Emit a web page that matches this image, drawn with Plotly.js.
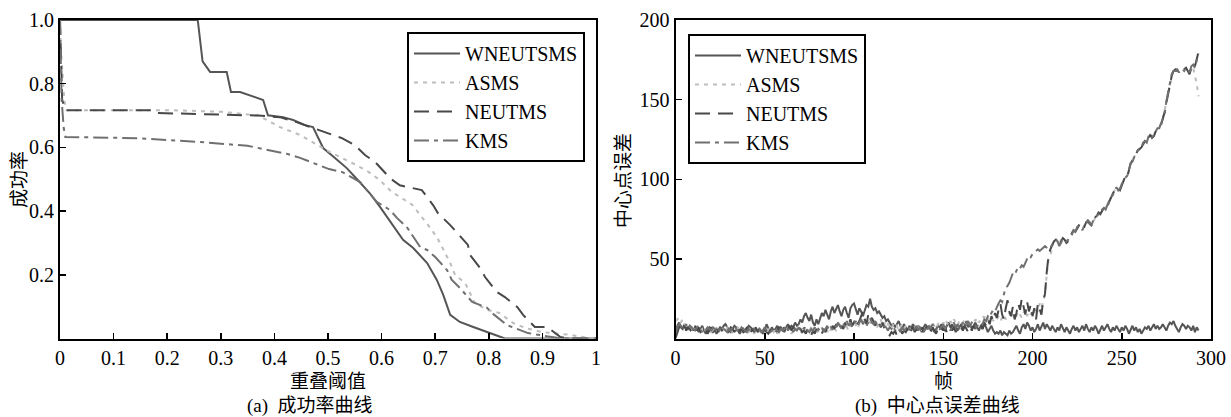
<!DOCTYPE html>
<html><head><meta charset="utf-8">
<script src="https://cdn.plot.ly/plotly-3.0.1.min.js"></script>
<style>html,body{margin:0;padding:0;background:#fff}#chart{width:1231px;height:417px}</style>
</head><body><div id="chart"></div>
<script>
const seriesNames = ['WNEUTSMS', 'ASMS', 'NEUTMS', 'KMS'];

// ---- (a) success-rate curves: overlap threshold vs success rate ----
const thrW = [0, 0.25, 0.257, 0.266, 0.28, 0.311, 0.319, 0.336, 0.367, 0.379, 0.388, 0.416, 0.435, 0.457, 0.472, 0.491, 0.513, 0.535, 0.556, 0.578, 0.597, 0.619, 0.64, 0.659, 0.685, 0.703, 0.715, 0.728, 0.746, 0.771, 0.797, 0.815, 0.83, 1];
const sucW = [1, 1, 1, 0.87, 0.837, 0.837, 0.774, 0.774, 0.755, 0.749, 0.701, 0.695, 0.686, 0.67, 0.664, 0.598, 0.567, 0.535, 0.497, 0.456, 0.413, 0.362, 0.31, 0.284, 0.237, 0.184, 0.137, 0.074, 0.052, 0.036, 0.02, 0.011, 0, 0];

const thrA = [0, 0.002, 0.008, 0.012, 0.2, 0.3, 0.37, 0.41, 0.448, 0.472, 0.504, 0.545, 0.573, 0.597, 0.619, 0.634, 0.657, 0.685, 0.703, 0.715, 0.728, 0.737, 0.756, 0.774, 0.797, 0.82, 0.845, 0.868, 0.9, 0.95, 0.99, 1];
const sucA = [1, 0.9, 0.75, 0.717, 0.717, 0.712, 0.70, 0.664, 0.639, 0.617, 0.585, 0.551, 0.526, 0.497, 0.46, 0.445, 0.42, 0.36, 0.319, 0.28, 0.237, 0.2, 0.174, 0.111, 0.09, 0.08, 0.049, 0.033, 0.02, 0.012, 0, 0];

const thrN = [0, 0.004, 0.01, 0.17, 0.18, 0.37, 0.41, 0.44, 0.494, 0.526, 0.55, 0.569, 0.588, 0.616, 0.634, 0.66, 0.675, 0.696, 0.705, 0.728, 0.74, 0.761, 0.765, 0.784, 0.793, 0.815, 0.83, 0.853, 0.864, 0.886, 0.909, 0.933, 0.95, 1];
const sucN = [1, 0.75, 0.717, 0.717, 0.708, 0.70, 0.695, 0.68, 0.648, 0.629, 0.607, 0.576, 0.554, 0.503, 0.481, 0.47, 0.466, 0.419, 0.394, 0.356, 0.334, 0.294, 0.262, 0.221, 0.193, 0.146, 0.13, 0.099, 0.074, 0.036, 0.036, 0.005, 0, 0];

const thrK = [0, 0.003, 0.007, 0.01, 0.143, 0.26, 0.35, 0.386, 0.423, 0.448, 0.481, 0.502, 0.526, 0.56, 0.591, 0.616, 0.629, 0.647, 0.672, 0.685, 0.7, 0.722, 0.731, 0.746, 0.769, 0.784, 0.797, 0.806, 0.834, 0.873, 0.927, 0.95, 1];
const sucK = [1, 0.75, 0.66, 0.633, 0.629, 0.617, 0.605, 0.592, 0.58, 0.567, 0.545, 0.532, 0.523, 0.491, 0.429, 0.403, 0.378, 0.35, 0.287, 0.278, 0.256, 0.215, 0.184, 0.159, 0.115, 0.105, 0.096, 0.08, 0.042, 0.017, 0.002, 0, 0];

// ---- (b) center-location error per frame ----
const errW = [
 2, 8, 10, 7, 6, 9, 7, 6, 8, 7,
 5, 7, 6, 4, 6, 8, 5, 3, 5, 7,
 6, 4, 5, 3, 5, 7, 6, 8, 9, 7,
 5, 4, 6, 8, 7, 5, 3, 5, 6, 4,
 6, 8, 7, 6, 5, 7, 4, 6, 5, 3,
 5, 9, 6, 4, 7, 5, 6, 8, 5, 7,
 6, 4, 7, 9, 6, 8, 7, 10, 8, 9,
 12, 10, 14, 16, 13, 11, 15, 10, 8, 12,
 9, 13, 16, 14, 18, 15, 12, 17, 20, 16,
 19, 21, 17, 14, 18, 20, 16, 13, 19, 21,
 22, 18, 15, 19, 17, 14, 18, 21, 20, 25,
 20, 18, 19, 16, 17, 15, 13, 14, 11, 12,
 10, 8, 9, 7, 9, 11, 8, 6, 9, 7,
 5, 8, 6, 9, 7, 5, 8, 6, 4, 7,
 9, 6, 8, 5, 7, 4, 6, 8, 7, 9,
 6, 5, 8, 10, 7, 9, 6, 8, 5, 7,
 9, 6, 8, 11, 7, 9, 6, 8, 10, 7,
 5, 8, 6, 9, 7, 4, 6, 8, 5, 3,
 4, 3, 5, 2, 4, 3, 2, 5, 3, 4,
 6, 8, 5, 3, 7, 9, 6, 10, 8, 5,
 7, 4, 6, 9, 5, 8, 10, 6, 9, 7,
 5, 8, 6, 4, 7, 5, 9, 6, 4, 7,
 5, 3, 6, 8, 5, 7, 4, 6, 8, 5,
 9, 6, 4, 7, 5, 8, 6, 3, 6, 8,
 5, 7, 9, 6, 4, 7, 5, 8, 6, 4,
 7, 5, 8, 6, 3, 6, 8, 5, 7, 4,
 6, 3, 5, 7, 6, 8, 5, 7, 9, 6,
 8, 6, 7, 9, 7, 5, 8, 10, 9, 11,
 8, 6, 4, 7, 9, 8, 6, 8, 7, 5,
 8, 4, 7, 5];

const errA = [
 11, 12, 13, 10, 12, 9, 7, 8, 6, 7,
 5, 6, 8, 7, 5, 6, 4, 6, 7, 5,
 4, 6, 5, 7, 4, 5, 6, 4, 5, 7,
 6, 5, 4, 6, 5, 7, 6, 4, 5, 6,
 5, 4, 6, 5, 3, 5, 6, 4, 7, 5,
 4, 6, 5, 7, 5, 4, 6, 3, 5, 4,
 6, 5, 4, 7, 5, 3, 5, 4, 6, 5,
 3, 5, 4, 6, 3, 5, 7, 4, 6, 3,
 5, 4, 7, 5, 6, 4, 7, 5, 8, 6,
 5, 7, 9, 6, 8, 10, 7, 5, 8, 9,
 11, 8, 6, 9, 12, 10, 13, 9, 11, 10,
 8, 11, 9, 7, 10, 12, 8, 10, 7, 9,
 8, 6, 9, 7, 8, 5, 7, 9, 6, 8,
 7, 5, 8, 6, 7, 9, 6, 8, 5, 7,
 8, 6, 9, 7, 10, 8, 6, 9, 10, 11,
 9, 12, 10, 8, 11, 9, 12, 10, 8, 11,
 9, 10, 12, 9, 11, 8, 10, 12, 11, 13,
 10, 12, 14, 13, 15, 12, 14, 13, 11, 13,
 12, 14, 11, 13, 15, 12, 14, 16, 13, 15,
 12, 14, 17, 15, 13, 16, 18, 14, 17, 15,
 18, 16, 20, 17, 22, 19, 24, 28, 40, 50,
 52, 58, 62, 63, 61, 59, 62, 63, 62, 61,
 62, 64, 66, 68, 68, 69, 71, 70, 69, 71,
 73, 74, 73, 72, 73, 76, 78, 79, 79, 80,
 82, 82, 84, 86, 89, 91, 93, 95, 94, 94,
 96, 99, 102, 102, 106, 110, 112, 114, 116, 118,
 119, 121, 122, 124, 124, 126, 128, 127, 128, 130,
 131, 133, 135, 138, 143, 148, 154, 160, 165, 169,
 170, 169, 168, 169, 168, 169, 170, 169, 167, 170,
 170, 165, 160, 152];

const errN = [
 0, 4, 7, 9, 6, 8, 5, 7, 6, 4,
 6, 8, 5, 7, 4, 5, 7, 6, 3, 5,
 7, 5, 3, 6, 4, 7, 5, 6, 4, 3,
 5, 7, 6, 4, 6, 8, 5, 6, 4, 5,
 7, 5, 3, 6, 4, 6, 5, 3, 2, 4,
 6, 4, 3, 5, 7, 6, 4, 5, 7, 6,
 5, 7, 4, 6, 8, 5, 7, 6, 4, 5,
 6, 4, 5, 3, 6, 4, 2, 5, 3, 6,
 4, 5, 3, 6, 4, 7, 5, 4, 8, 6,
 9, 7, 5, 8, 6, 10, 7, 9, 12, 8,
 10, 13, 9, 11, 14, 17, 12, 9, 15, 11,
 13, 10, 8, 12, 9, 7, 10, 6, 4, 3,
 2, 4, 3, 5, 2, 4, 6, 3, 5, 4,
 6, 3, 5, 7, 4, 6, 3, 5, 7, 4,
 6, 8, 5, 4, 7, 5, 3, 6, 4, 7,
 5, 7, 4, 6, 8, 5, 7, 4, 6, 5,
 7, 5, 8, 6, 4, 7, 5, 8, 6, 9,
 7, 9, 6, 10, 8, 12, 9, 14, 11, 16,
 13, 18, 22, 15, 12, 19, 24, 17, 14, 20,
 12, 16, 22, 18, 25, 20, 15, 23, 17, 21,
 14, 19, 12, 22, 18, 15, 24, 28, 42, 52,
 56, 59, 61, 62, 60, 58, 61, 63, 62, 60,
 61, 63, 66, 68, 67, 69, 71, 70, 68, 70,
 73, 74, 72, 71, 73, 76, 77, 79, 78, 80,
 82, 81, 83, 86, 89, 91, 93, 95, 94, 93,
 96, 99, 102, 101, 106, 110, 112, 114, 116, 118,
 119, 120, 122, 124, 123, 126, 128, 126, 127, 130,
 131, 132, 134, 138, 142, 148, 154, 160, 165, 168,
 169, 168, 168, 169, 168, 169, 170, 168, 166, 170,
 173, 171, 176, 180];

const errK = [
 3, 7, 9, 8, 6, 7, 9, 6, 8, 7,
 6, 5, 7, 8, 6, 4, 6, 5, 7, 6,
 5, 7, 6, 4, 5, 6, 8, 6, 5, 4,
 6, 5, 7, 8, 6, 4, 5, 7, 6, 5,
 4, 6, 5, 7, 6, 4, 5, 6, 4, 5,
 7, 5, 6, 4, 5, 7, 6, 5, 4, 6,
 5, 6, 8, 5, 7, 6, 4, 6, 5, 7,
 5, 7, 6, 8, 5, 4, 6, 5, 7, 4,
 6, 5, 7, 4, 6, 8, 5, 7, 6, 9,
 7, 10, 8, 6, 9, 7, 11, 8, 10, 7,
 9, 11, 8, 10, 12, 9, 11, 8, 10, 13,
 10, 9, 11, 8, 7, 9, 6, 8, 7, 5,
 7, 6, 8, 5, 7, 6, 4, 7, 5, 6,
 8, 6, 5, 7, 6, 8, 5, 7, 6, 4,
 7, 5, 8, 6, 9, 7, 5, 8, 6, 7,
 9, 6, 8, 7, 5, 8, 10, 7, 9, 6,
 8, 10, 7, 9, 11, 8, 10, 9, 7, 8,
 8, 10, 9, 12, 11, 14, 13, 16, 18, 17,
 20, 22, 24, 23, 28, 32, 33, 35, 38, 41,
 40, 43, 45, 44, 46, 45, 48, 50, 52, 51,
 53, 54, 55, 56, 55, 56, 57, 58, 57, 56,
 57, 59, 60, 62, 61, 58, 60, 63, 62, 61,
 62, 63, 65, 68, 67, 70, 71, 70, 68, 71,
 72, 74, 73, 71, 74, 76, 77, 78, 78, 81,
 82, 81, 84, 87, 89, 90, 93, 95, 93, 94,
 97, 99, 101, 102, 107, 110, 111, 114, 117, 118,
 120, 120, 123, 124, 123, 127, 128, 126, 128, 130,
 132, 132, 135, 138, 141, 149, 155, 160, 166, 168,
 168, 169, 167, 169, 169, 168, 170, 169, 167, 171,
 172, 170, 175, 179];

// ---- tick labels ----
const axTickVals = [0, 0.1, 0.2, 0.3, 0.4, 0.5, 0.6, 0.7, 0.8, 0.9, 1];
const axTickText = ['0', '0.1', '0.2', '0.3', '0.4', '0.5', '0.6', '0.7', '0.8', '0.9', '1'];
const ayTickVals = [0.2, 0.4, 0.6, 0.8, 1.0];
const ayTickText = ['0.2', '0.4', '0.6', '0.8', '1.0'];
const bxTickVals = [0, 50, 100, 150, 200, 250, 300];
const byTickVals = [50, 100, 150, 200];

const frames = errW.map((_, i) => i);

const styles = [
  {color: '#555555', width: 2, dash: 'solid'},
  {color: '#bdbdbd', width: 2, dash: '4px,5px'},
  {color: '#484848', width: 2, dash: '15px,8px'},
  {color: '#707070', width: 2, dash: '15px,5px,4px,5px'}
];

const leftX = [thrW, thrA, thrN, thrK];
const leftY = [sucW, sucA, sucN, sucK];
const rightY = [errW, errA, errN, errK];

const traces = [];
seriesNames.forEach((n, i) => {
  traces.push({x: leftX[i], y: leftY[i], type: 'scatter', mode: 'lines', name: n,
    line: styles[i], xaxis: 'x', yaxis: 'y', legend: 'legend', hoverinfo: 'skip'});
});
seriesNames.forEach((n, i) => {
  traces.push({x: frames, y: rightY[i], type: 'scatter', mode: 'lines', name: n,
    line: styles[i], xaxis: 'x2', yaxis: 'y2', legend: 'legend2', hoverinfo: 'skip'});
});

const serif = '"Times New Roman", "Liberation Serif", serif';
const cjk = '"Times New Roman", "Liberation Serif", "Noto Sans CJK SC", serif';
const axBase = {
  ticks: 'inside', ticklen: 6, tickwidth: 1.5, tickcolor: '#000',
  showline: true, mirror: true, linecolor: '#000', linewidth: 2,
  showgrid: false, zeroline: false, tickfont: {family: serif, size: 20, color: '#000'}
};
const yDom = [1 - 338.5 / 417, 1 - 20 / 417];

const legendBase = {xanchor: 'left', yanchor: 'top', bgcolor: '#fff', bordercolor: '#000', borderwidth: 2,
  font: {family: serif, size: 20, color: '#000'}, tracegroupgap: 0, itemwidth: 46};

const layout = {
  width: 1231, height: 417,
  margin: {l: 0, r: 0, t: 0, b: 0},
  paper_bgcolor: '#fff', plot_bgcolor: '#fff',
  font: {family: serif, size: 20, color: '#000'},
  xaxis: Object.assign({}, axBase, {domain: [60 / 1231, 596 / 1231], range: [0, 1], anchor: 'y',
    tickmode: 'array', tickvals: axTickVals, ticktext: axTickText}),
  yaxis: Object.assign({}, axBase, {domain: yDom, range: [0, 1], anchor: 'x',
    tickmode: 'array', tickvals: ayTickVals, ticktext: ayTickText}),
  xaxis2: Object.assign({}, axBase, {domain: [675.5 / 1231, 1211 / 1231], range: [0, 300], anchor: 'y2',
    tickmode: 'array', tickvals: bxTickVals}),
  yaxis2: Object.assign({}, axBase, {domain: yDom, range: [0, 200], anchor: 'x2',
    tickmode: 'array', tickvals: byTickVals}),
  legend: Object.assign({}, legendBase, {x: 407 / 1231, y: 1 - 32 / 417}),
  legend2: Object.assign({}, legendBase, {x: 688 / 1231, y: 1 - 34 / 417}),
  annotations: [
    {text: '重叠阈值', x: 328 / 1231, y: 1 - 381 / 417, xref: 'paper', yref: 'paper',
     xanchor: 'center', yanchor: 'middle', showarrow: false, font: {family: cjk, size: 19}},
    {text: '成功率', x: 19 / 1231, y: 1 - 180 / 417, xref: 'paper', yref: 'paper', textangle: -90,
     xanchor: 'center', yanchor: 'middle', showarrow: false, font: {family: cjk, size: 19}},
    {text: '(a)\u00a0\u00a0成功率曲线', x: 310 / 1231, y: 1 - 406 / 417, xref: 'paper', yref: 'paper',
     xanchor: 'center', yanchor: 'middle', showarrow: false, font: {family: cjk, size: 19}},
    {text: '帧', x: 943 / 1231, y: 1 - 381 / 417, xref: 'paper', yref: 'paper',
     xanchor: 'center', yanchor: 'middle', showarrow: false, font: {family: cjk, size: 19}},
    {text: '中心点误差', x: 623 / 1231, y: 1 - 181 / 417, xref: 'paper', yref: 'paper', textangle: -90,
     xanchor: 'center', yanchor: 'middle', showarrow: false, font: {family: cjk, size: 19}},
    {text: '(b)\u00a0\u00a0中心点误差曲线', x: 937.5 / 1231, y: 1 - 406 / 417, xref: 'paper', yref: 'paper',
     xanchor: 'center', yanchor: 'middle', showarrow: false, font: {family: cjk, size: 19}}
  ]
};

Plotly.newPlot('chart', traces, layout, {displayModeBar: false, staticPlot: true});
</script>
</body></html>
